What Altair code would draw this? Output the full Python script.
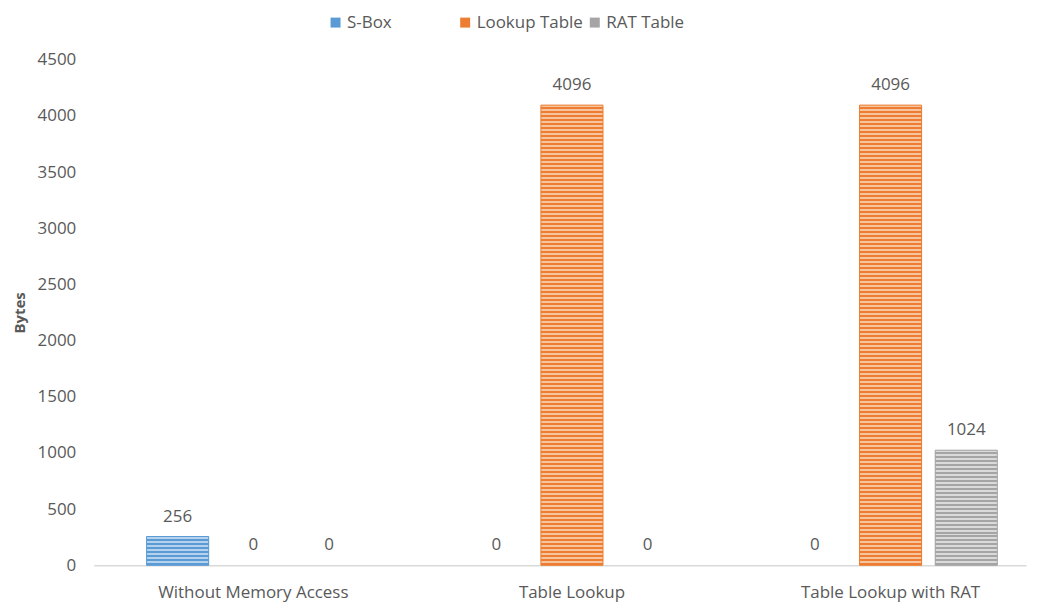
import altair as alt
import pandas as pd

categories = ["Without Memory Access", "Table Lookup", "Table Lookup with RAT"]
series = ["S-Box", "Lookup Table", "RAT Table"]
sbox = [256, 0, 0]
lookup = [0, 4096, 4096]
rat = [0, 0, 1024]

colors = ["#5B9BD5", "#ED7D31", "#A5A5A5"]
light = ["#B4D1EE", "#F8C4A0", "#DADADA"]

rows = []
for s, vals in zip(series, [sbox, lookup, rat]):
    for c, v in zip(categories, vals):
        rows.append({"category": c, "series": s, "value": v})
df = pd.DataFrame(rows)

W, H = 935, 507
YMAX = 4500
TXT = "#595959"
FONT = "Open Sans"
FS = 17


def stripes(base, lite, value, period=4.0):
    hpx = value / YMAX * H
    n = max(1, round(hpx / period))
    stops = []
    for k in range(n):
        a = k / n
        b = (k + 0.5) / n
        c = (k + 1) / n
        stops += [
            alt.GradientStop(color=lite, offset=a),
            alt.GradientStop(color=lite, offset=b),
            alt.GradientStop(color=base, offset=b),
            alt.GradientStop(color=base, offset=c),
        ]
    return alt.LinearGradient(gradient="linear", stops=stops, x1=0, x2=0, y1=0, y2=1)


x_enc = alt.X(
    "category:N",
    sort=categories,
    scale=alt.Scale(paddingInner=0.33, paddingOuter=0.128, align=0.648),
    axis=alt.Axis(
        title=None, labelAngle=0, ticks=False, domainColor="#D9D9D9", domainWidth=1.5,
        labelColor=TXT, labelFont=FONT, labelFontSize=FS, labelPadding=19, labelLimit=400,
    ),
)
xo_enc = alt.XOffset("series:N", sort=series, scale=alt.Scale(domain=series, paddingInner=0.18))
y_enc = alt.Y(
    "value:Q",
    scale=alt.Scale(domain=[0, YMAX]),
    axis=alt.Axis(
        title="Bytes", values=list(range(0, 4501, 500)), format="d", grid=False, domain=False, ticks=False,
        labelColor=TXT, labelFont=FONT, labelFontSize=FS, labelPadding=18,
        titleColor=TXT, titleFont=FONT, titleFontSize=15, titleFontWeight="bold", titleX=-66,
    ),
)

base = alt.Chart(df)

bars = base.mark_bar().encode(
    x=x_enc,
    xOffset=xo_enc,
    y=y_enc,
    color=alt.Color(
        "series:N",
        sort=series,
        scale=alt.Scale(domain=series, range=colors),
        legend=alt.Legend(
            title=None, orient="none", direction="horizontal", legendX=234, legendY=-46,
            symbolType="square", symbolSize=100, symbolStrokeWidth=0,
            labelColor=TXT, labelFont=FONT, labelFontSize=FS, labelOffset=3,
            columnPadding=3, gridAlign="all",
        ),
    ),
)

layers = [bars]
for s, vals, col, lt in zip(series, [sbox, lookup, rat], colors, light):
    v = max(vals)
    layers.append(
        base.transform_filter(
            (alt.datum.series == s) & (alt.datum.value > 0)
        ).mark_bar(fill=stripes(col, lt, v), stroke=col, strokeWidth=1).encode(
            x=x_enc, xOffset=xo_enc, y=y_enc
        )
    )

labels = base.mark_text(baseline="bottom", dy=-11, font=FONT, fontSize=FS, color=TXT).encode(
    x=x_enc, xOffset=xo_enc, y=y_enc, text=alt.Text("value:Q")
)
layers.append(labels)

chart = alt.layer(*layers).properties(
    width=W, height=H, background="white"
).configure_view(strokeWidth=0)

chart.save("out.html", embed_options={"renderer": "svg", "actions": False})
